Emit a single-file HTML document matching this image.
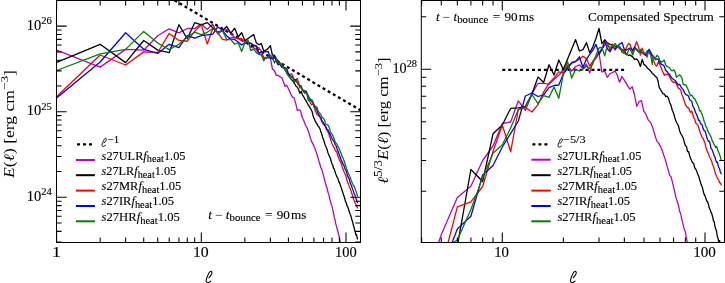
<!DOCTYPE html><html><head><meta charset="utf-8"><style>html,body{margin:0;padding:0;background:#fff;}svg{display:block;will-change:transform}</style></head><body><svg width="725" height="283" viewBox="0 0 725 283" font-family='"Liberation Serif", serif'>
<rect width="725" height="283" fill="#fff"/>
<defs><clipPath id="cl"><rect x="56.6" y="0.4" width="303.7" height="242.0"/></clipPath>
<clipPath id="cr"><rect x="421.2" y="0.4" width="303.09999999999997" height="242.0"/></clipPath></defs>
<g clip-path="url(#cl)"><line x1="56.60" y1="-69.46" x2="374.94" y2="118.86" stroke="#000" stroke-width="2.3" stroke-dasharray="3 2.94" stroke-dashoffset="5.7"/></g>
<line x1="502.30" y1="69.8" x2="624.34" y2="69.8" stroke="#000" stroke-width="2.3" stroke-dasharray="3 2.94"/>
<g clip-path="url(#cl)" fill="none" stroke-width="1.3" stroke-linejoin="round"><polyline points="56.60,50.10 100.16,67.10 125.64,49.40 143.72,50.20 157.74,35.80 169.20,28.80 178.89,32.81 187.28,28.48 194.68,28.66 201.30,24.15 207.29,29.32 212.76,24.32 217.79,33.98 222.44,30.53 226.78,29.56 230.84,33.56 234.65,37.75 238.24,38.99 241.64,40.28 244.86,40.86 247.93,41.67 250.85,47.25 253.64,47.80 256.32,49.60 258.88,53.95 261.35,54.27 263.72,60.87 266.00,57.34 268.21,58.24 270.34,57.64 272.40,68.99 274.40,70.57 276.33,75.47 278.20,75.45 280.03,76.85 281.75,77.58 283.39,81.45 285.04,86.45 286.68,85.28 288.32,88.56 290.75,93.80 292.39,97.09 294.03,97.58 295.67,103.12 297.31,110.38 298.96,109.74 300.60,110.82 302.24,117.50 303.88,120.83 305.52,125.25 307.17,127.99 308.81,132.41 310.68,138.70 311.77,141.84 312.84,143.63 313.90,146.00 314.94,148.44 315.96,151.41 316.96,154.56 317.95,157.52 318.93,161.18 319.89,164.21 320.83,167.55 321.76,169.06 322.68,172.44 323.59,175.94 324.48,179.35 325.36,182.98 326.22,185.71 327.08,188.28 327.92,192.07 328.75,194.40 329.58,197.90 330.39,201.04 331.19,204.13 331.98,206.13 332.76,209.94 333.53,213.31 334.29,217.34 335.04,219.76 335.79,223.88 336.52,226.39 337.25,229.22 337.97,231.70 338.68,234.69 339.38,237.51 340.07,241.15 340.76,243.80 341.30,246.00" stroke="#bf00bf"/><polyline points="56.60,62.30 100.16,44.30 125.64,62.60 143.72,40.50 157.74,50.10 169.20,52.70 178.89,24.62 187.28,38.78 194.68,22.68 201.30,24.89 207.29,22.60 212.76,27.80 217.79,31.97 222.44,30.53 226.78,26.52 230.84,33.11 234.65,28.19 238.24,36.78 241.64,32.77 244.86,40.61 247.93,38.48 250.85,36.46 253.64,34.60 256.32,42.83 258.88,44.68 261.35,43.72 263.72,50.96 266.00,50.23 268.21,48.33 270.34,45.57 272.40,55.06 274.40,55.16 276.33,58.54 278.20,61.18 280.03,63.27 281.80,65.50 283.52,67.69 285.19,69.83 286.83,72.18 288.42,74.48 289.97,77.49 291.48,79.76 292.46,80.43 294.39,83.26 295.82,85.95 297.17,86.94 298.53,89.55 299.88,93.39 301.17,91.23 302.38,94.83 303.67,96.73 304.88,99.05 306.10,100.94 307.24,102.95 308.38,105.15 309.52,106.87 310.66,108.97 311.73,110.62 312.59,113.52 313.31,116.83 314.94,120.37 315.96,122.53 316.96,123.75 317.95,126.00 318.93,126.74 319.89,128.58 320.83,131.84 321.76,134.02 322.68,137.44 323.59,139.64 324.48,142.84 325.36,145.48 326.22,147.46 327.08,149.30 327.92,152.63 328.75,154.83 329.58,156.61 330.39,158.48 331.19,161.26 331.98,163.75 332.76,165.02 333.53,168.27 334.29,169.12 335.04,171.84 335.79,173.96 336.52,175.88 337.25,177.49 337.97,178.65 338.68,181.35 339.38,182.62 340.07,184.35 340.76,186.51 341.44,188.04 342.11,190.46 342.78,192.54 343.43,194.60 344.09,196.18 344.73,198.73 345.37,200.96 346.00,202.30 346.63,204.19 347.24,206.08 347.86,207.07 348.46,208.88 349.07,211.32 349.66,212.65 350.25,214.50 350.84,215.79 351.42,217.90 351.99,220.40 352.56,221.32 353.12,224.36 353.68,226.11 354.23,227.79 354.78,230.75 355.33,232.40 355.87,234.90 356.40,234.51 356.93,236.67 357.46,239.22 357.50,239.50" stroke="#000000"/><polyline points="56.60,96.80 100.16,55.00 125.64,65.00 143.72,51.90 157.74,52.50 169.20,33.42 178.89,40.46 187.28,41.23 194.68,31.36 201.30,24.89 207.29,43.94 212.76,28.58 217.79,32.56 222.44,39.36 226.78,40.05 230.84,37.87 234.65,37.31 238.24,38.25 241.64,38.56 244.86,42.33 247.93,42.41 250.85,43.03 253.64,45.15 256.32,46.90 258.88,47.91 261.35,51.52 263.72,57.54 266.00,57.34 268.21,57.40 270.34,57.25 272.40,57.71 274.40,57.76 276.33,58.54 278.20,64.17 280.03,62.83 281.80,67.56 283.52,67.40 285.19,70.32 286.83,72.52 288.42,75.61 289.97,74.15 291.48,73.78 292.46,75.13 294.39,81.11 295.82,79.81 297.17,78.55 298.53,82.39 299.88,87.75 301.17,85.63 302.38,89.23 303.67,91.48 304.74,93.52 305.38,91.90 306.10,91.91 307.67,95.52 309.02,99.11 310.66,103.43 311.59,104.79 312.95,103.62 313.95,106.67 314.88,109.15 315.52,110.92 316.95,114.53 317.87,114.81 318.87,116.09 319.87,116.78 320.80,119.26 321.73,121.40 322.66,123.20 323.58,124.66 324.73,125.39 327.01,130.73 327.92,132.02 328.75,133.56 329.58,136.62 330.39,138.58 331.19,141.10 331.98,143.79 332.76,145.27 333.53,146.91 334.29,147.55 335.04,149.79 335.79,151.29 336.52,151.31 337.25,153.65 337.97,156.10 338.68,157.47 339.38,160.03 340.07,161.15 340.76,162.33 341.44,164.26 342.11,166.24 342.78,168.56 343.43,170.11 344.09,172.06 344.73,172.89 345.37,174.86 346.00,176.31 346.63,179.01 347.24,181.23 347.86,182.47 348.46,184.25 349.07,185.88 349.66,187.33 350.25,188.70 350.84,190.18 351.42,192.42 351.99,193.66 352.56,195.51 353.12,197.60 353.68,199.28 354.23,200.60 354.78,202.28 355.33,203.33 355.87,204.30 356.40,206.20 356.93,206.71 357.46,207.82 357.49,208.57" stroke="#ff0000"/><polyline points="56.60,98.00 100.16,62.00 125.64,32.70 143.72,49.30 157.74,53.40 169.20,44.26 178.89,47.53 187.28,35.59 194.68,38.23 201.30,35.68 207.29,34.87 212.76,34.22 217.79,26.92 222.44,30.04 226.78,36.03 230.84,39.20 234.65,39.47 238.24,41.93 241.64,45.04 244.86,42.82 247.93,43.14 250.85,43.43 253.64,45.45 256.32,45.68 258.88,53.36 261.35,51.86 263.72,51.75 266.00,51.89 268.21,51.32 270.34,58.28 272.40,58.05 274.40,55.90 276.33,61.53 278.20,64.81 280.03,64.25 281.80,66.83 283.52,67.20 285.19,67.92 286.83,68.79 288.42,73.75 289.97,75.52 291.48,76.38 292.46,77.05 294.39,79.88 295.82,79.72 297.17,82.62 298.53,84.89 299.88,85.59 301.17,87.79 302.38,89.87 303.67,91.58 306.10,91.03 307.24,93.73 308.38,96.22 309.52,98.23 310.66,100.73 311.73,101.30 312.81,102.84 313.88,105.23 314.88,107.09 315.95,108.39 316.95,110.16 317.87,112.94 318.87,114.57 319.87,116.48 320.80,117.99 321.73,120.08 322.66,121.73 323.58,123.14 324.73,124.75 326.94,129.09 327.92,129.80 328.75,131.78 329.58,133.40 330.39,134.85 331.19,136.71 331.98,138.54 332.76,139.81 333.53,140.65 334.29,141.92 335.04,144.31 335.79,145.48 336.52,146.60 337.25,149.59 337.97,151.06 338.68,152.94 339.38,155.03 340.07,156.72 340.76,158.73 341.44,160.75 342.11,161.51 342.78,163.70 343.43,164.61 344.09,165.90 344.73,168.20 345.37,169.69 346.00,170.48 346.63,172.42 347.24,174.79 347.86,176.45 348.46,178.00 349.07,178.54 349.66,180.34 350.25,183.15 350.84,184.18 351.42,185.58 351.99,187.39 352.56,189.17 353.12,190.30 353.68,192.36 354.23,194.00 354.78,194.34 355.33,196.42 355.87,198.20 356.40,199.23 356.93,201.49 357.46,202.46 357.49,203.07" stroke="#0000ff"/><polyline points="56.60,70.50 100.16,53.80 125.64,49.40 143.72,31.40 157.74,43.00 169.20,49.65 178.89,44.24 187.28,36.87 194.68,32.20 201.30,34.55 207.29,32.27 212.76,28.58 217.79,32.32 222.44,30.78 226.78,39.51 230.84,39.64 234.65,44.23 238.24,42.67 241.64,51.56 244.86,42.82 247.93,39.76 250.85,50.69 253.64,49.12 256.32,52.64 258.88,54.29 261.35,55.20 263.72,58.72 266.00,58.57 268.21,56.62 270.34,55.19 272.40,56.92 274.40,63.01 276.33,59.67 278.20,62.55 280.03,64.05 281.80,64.23 283.52,67.69 285.19,69.05 286.83,73.65 288.42,75.61 289.97,77.88 291.48,77.11 292.46,77.34 294.39,82.33 295.82,80.94 297.17,81.99 298.53,84.89 299.88,84.95 301.17,88.09 302.38,89.48 303.67,90.45 304.95,90.59 307.24,95.10 308.02,99.01 308.38,100.69 309.02,97.74 310.66,99.80 311.73,99.53 312.81,101.47 313.88,104.34 314.88,106.01 315.95,106.58 316.95,107.07 317.87,110.44 318.87,112.07 319.87,113.34 320.80,114.60 321.73,116.74 322.66,117.95 323.58,118.33 324.73,120.68 325.58,124.03 327.92,125.09 328.75,126.56 329.58,128.41 330.39,132.12 331.19,133.37 331.98,133.88 332.76,135.43 333.53,137.29 334.29,139.24 335.04,141.54 335.79,143.07 336.52,143.52 337.25,144.97 337.97,146.54 338.68,147.36 339.38,149.17 340.07,150.85 340.76,152.48 341.44,154.15 342.11,156.73 342.78,157.28 343.43,159.14 344.09,160.82 344.73,162.74 345.37,165.08 346.00,166.84 346.63,169.00 347.24,169.88 347.86,172.13 348.46,173.57 349.07,174.81 349.66,176.30 350.25,177.47 350.84,179.37 351.42,180.95 351.99,182.24 352.56,183.79 353.12,184.75 353.68,186.26 354.23,186.14 354.78,187.53 355.33,189.58 355.87,190.89 356.40,192.31 356.93,193.92 357.46,195.88 357.49,195.47" stroke="#008000"/></g>
<g clip-path="url(#cr)" fill="none" stroke-width="1.3" stroke-linejoin="round"><polyline points="299.60,467.23 360.62,414.33 396.31,327.04 421.64,292.33 441.28,234.79 457.33,197.50 470.90,186.20 482.66,160.50 493.02,146.00 502.30,123.50 510.69,122.00 518.35,100.80 525.40,110.40 531.92,94.00 537.99,83.30 543.68,83.30 549.01,84.20 554.04,79.50 558.80,75.30 563.32,70.00 567.61,65.50 571.71,71.00 575.62,66.50 579.37,64.80 582.96,68.50 586.42,64.20 589.74,72.90 592.94,61.10 596.03,58.50 599.01,53.00 601.90,72.00 604.69,71.20 607.40,77.30 610.03,73.50 612.58,72.70 615.00,70.70 617.30,75.30 619.60,82.20 621.90,76.50 624.20,79.90 627.60,85.70 629.90,89.10 632.20,86.80 634.50,94.80 636.80,106.30 639.10,101.70 641.40,100.60 643.70,110.90 646.00,114.40 648.30,120.10 650.60,122.40 652.90,128.10 655.52,137.18 657.05,141.38 658.55,142.86 660.03,145.57 661.49,148.47 662.92,152.46 664.33,156.86 665.71,160.91 667.08,166.42 668.42,170.67 669.75,175.56 671.05,176.77 672.33,181.83 673.60,187.14 674.85,192.30 676.08,197.94 677.30,201.76 678.49,205.27 679.67,211.31 680.84,214.39 681.99,219.88 683.13,224.63 684.25,229.34 685.36,231.82 686.45,238.01 687.53,243.33 688.60,250.02 689.65,253.44 690.69,260.35 691.72,263.98 692.74,268.30 693.75,271.91 694.74,276.58 695.72,280.90 696.70,286.93 697.66,290.96 698.42,294.36" stroke="#bf00bf"/><polyline points="299.60,492.10 360.62,367.85 396.31,353.94 421.64,272.56 441.28,263.94 457.33,246.21 470.90,169.50 482.66,181.50 493.02,133.80 502.30,125.00 510.69,108.30 518.35,107.90 525.40,106.30 531.92,94.00 537.99,77.10 543.68,82.40 549.01,64.70 554.04,75.00 558.80,60.00 563.32,69.50 567.61,59.00 571.71,49.00 575.62,39.60 579.37,51.00 582.96,49.60 586.42,42.70 589.74,52.70 592.94,46.60 596.03,38.30 599.01,28.40 601.90,43.60 604.69,39.80 607.40,42.80 610.03,44.40 612.58,45.00 615.06,46.00 617.47,47.00 619.82,48.00 622.11,49.50 624.34,51.00 626.51,54.00 628.63,55.60 630.00,55.00 632.70,56.90 634.70,59.50 636.60,58.80 638.50,61.40 640.40,66.50 642.20,59.50 643.90,64.40 645.70,65.70 647.40,68.00 649.10,69.40 650.70,71.20 652.30,73.40 653.90,74.60 655.50,76.60 657.00,77.80 658.20,82.00 659.20,87.30 661.49,91.24 662.92,93.60 664.33,94.05 665.71,96.65 667.08,96.20 668.42,98.03 669.75,102.77 671.05,105.34 672.33,110.47 673.60,113.14 674.85,117.88 676.08,121.49 677.30,123.77 678.49,125.82 679.67,130.91 680.84,133.72 681.99,135.69 683.13,137.87 684.25,141.93 685.36,145.43 686.45,146.44 687.53,151.53 688.60,151.73 689.65,155.76 690.69,158.57 691.72,161.03 692.74,162.85 693.75,163.76 694.74,167.83 695.72,169.01 696.70,171.15 697.66,174.17 698.61,175.92 699.55,179.50 700.48,182.41 701.41,185.29 702.32,187.20 703.22,191.10 704.12,194.36 705.00,195.84 705.88,198.42 706.74,201.03 707.60,201.82 708.45,204.29 709.30,208.04 710.13,209.57 710.96,212.14 711.77,213.60 712.59,216.74 713.39,220.68 714.19,221.42 714.98,226.49 715.76,228.92 716.53,231.24 717.30,236.17 718.07,238.44 718.82,242.46 719.57,240.58 720.31,243.93 721.05,248.05 721.11,248.55" stroke="#000000"/><polyline points="299.60,562.43 360.62,389.66 396.31,358.84 421.64,295.80 441.28,268.83 457.33,206.90 470.90,201.80 482.66,186.50 493.02,151.50 502.30,125.00 510.69,151.80 518.35,109.50 525.40,107.50 531.92,112.00 537.99,104.70 543.68,92.10 549.01,83.30 554.04,78.00 558.80,71.80 563.32,73.00 567.61,67.00 571.71,62.40 575.62,61.10 579.37,59.30 582.96,56.20 586.42,58.60 589.74,66.10 592.94,61.10 596.03,56.80 599.01,52.20 601.90,49.00 604.69,45.10 607.40,42.80 610.03,50.50 612.58,44.10 615.06,50.20 617.47,46.40 619.82,49.00 622.11,50.20 624.34,53.30 626.51,47.20 628.63,43.40 630.00,44.20 632.70,52.50 634.70,47.00 636.60,41.70 638.50,46.80 640.40,55.00 642.20,48.10 643.90,53.00 645.70,55.00 647.20,57.00 648.10,52.40 649.10,51.00 651.30,55.20 653.20,59.80 655.50,65.30 656.80,66.20 658.70,61.10 660.10,65.30 661.40,68.50 662.30,70.80 664.30,75.30 665.60,74.00 667.00,74.60 668.40,74.00 669.70,77.20 671.00,79.70 672.30,81.50 673.60,82.60 675.20,81.80 678.40,88.10 679.67,88.90 680.84,90.36 681.99,94.94 683.13,97.31 684.25,100.83 685.36,104.74 686.45,106.18 687.53,107.97 688.60,107.75 689.65,110.80 690.69,112.36 691.72,110.93 692.74,114.25 693.75,117.80 694.74,119.15 695.72,122.96 696.70,123.86 697.66,124.87 698.61,127.44 699.55,130.13 700.48,133.52 701.41,135.36 702.32,138.02 703.22,138.42 704.12,141.16 705.00,142.85 705.88,147.10 706.74,150.36 707.60,151.66 708.45,154.08 709.30,156.18 710.13,157.96 710.96,159.56 711.77,161.39 712.59,164.79 713.39,166.17 714.19,168.80 714.98,171.93 715.76,174.24 716.53,175.82 717.30,178.14 718.07,179.17 718.82,180.07 719.57,182.86 720.31,182.85 721.05,184.05 721.10,185.50" stroke="#ff0000"/><polyline points="299.60,564.87 360.62,403.93 396.31,292.99 421.64,290.50 441.28,270.67 457.33,229.00 470.90,216.20 482.66,175.00 493.02,165.50 502.30,147.00 510.69,133.30 518.35,121.00 525.40,96.00 531.92,93.00 537.99,96.50 543.68,94.80 549.01,87.70 554.04,85.50 558.80,85.00 563.32,74.00 567.61,68.50 571.71,63.20 575.62,61.70 579.37,56.80 582.96,67.30 586.42,59.30 589.74,54.30 592.94,50.00 596.03,44.40 599.01,54.30 601.90,49.70 604.69,41.30 607.40,48.90 610.03,51.80 612.58,47.00 615.06,48.70 617.47,46.00 619.82,44.10 622.11,42.60 624.34,49.50 626.51,50.00 628.63,48.70 630.00,48.10 632.70,50.00 634.70,46.80 636.60,50.00 638.50,51.90 640.40,50.60 642.20,52.50 643.90,54.30 645.70,55.20 649.10,49.20 650.70,52.40 652.30,55.20 653.90,57.00 655.50,59.80 657.00,58.80 658.50,59.80 660.00,62.50 661.40,64.30 662.90,64.80 664.30,66.40 665.60,70.20 667.00,71.50 668.40,73.40 669.70,74.60 671.00,77.00 672.30,78.50 673.60,79.50 675.20,80.50 678.30,84.90 679.67,84.37 680.84,86.73 681.99,88.38 683.13,89.70 684.25,91.90 685.36,94.04 686.45,95.05 687.53,95.22 688.60,96.27 689.65,99.63 690.69,100.53 691.72,101.34 692.74,105.97 693.75,107.51 694.74,109.92 695.72,112.77 696.70,114.83 697.66,117.53 698.61,120.29 699.55,120.49 700.48,123.62 701.41,124.14 702.32,125.47 703.22,128.86 704.12,130.62 705.00,130.96 705.88,133.65 706.74,137.25 707.60,139.40 708.45,141.34 709.30,141.22 710.13,143.69 710.96,148.25 711.77,149.17 712.59,150.85 713.39,153.39 714.19,155.87 714.98,157.04 715.76,160.12 716.53,162.36 717.30,161.95 718.07,165.09 718.82,167.63 719.57,168.66 720.31,172.21 721.05,173.12 721.10,174.30" stroke="#0000ff"/><polyline points="299.60,508.81 360.62,387.22 396.31,327.04 421.64,254.01 441.28,249.47 457.33,240.00 470.90,209.50 482.66,177.60 493.02,153.20 502.30,144.70 510.69,128.00 518.35,109.50 525.40,107.00 531.92,94.50 537.99,103.60 543.68,95.70 549.01,97.40 554.04,87.00 558.80,98.30 563.32,74.00 567.61,61.60 571.71,78.00 575.62,69.20 579.37,71.00 582.96,69.20 586.42,66.10 589.74,68.50 592.94,63.60 596.03,55.20 599.01,48.00 601.90,47.40 604.69,55.80 607.40,45.10 610.03,47.20 612.58,46.60 615.06,43.40 617.47,47.00 619.82,46.40 622.11,52.50 624.34,53.30 626.51,54.80 628.63,50.20 630.00,48.70 632.70,55.00 634.70,49.30 636.60,48.70 638.50,51.90 640.40,49.30 642.20,53.10 643.90,53.50 645.70,52.90 647.50,50.60 650.70,55.20 651.80,61.60 652.30,64.30 653.20,57.00 655.50,57.90 657.00,55.20 658.50,57.00 660.00,60.70 661.40,62.10 662.90,61.10 664.30,60.10 665.60,65.10 667.00,66.40 668.40,67.00 669.70,67.70 671.00,70.20 672.30,70.80 673.60,69.70 675.20,72.20 676.40,77.30 679.67,74.77 680.84,76.09 681.99,78.21 683.13,84.14 684.25,85.09 685.36,84.53 686.45,86.13 687.53,88.36 688.60,90.81 689.65,93.99 690.69,95.62 691.72,95.06 692.74,96.55 693.75,98.31 694.74,98.56 695.72,100.83 696.70,102.85 697.66,104.79 698.61,106.83 699.55,110.74 700.48,110.54 701.41,113.00 702.32,115.12 703.22,117.72 704.12,121.22 705.00,123.54 705.88,126.68 706.74,127.23 707.60,130.58 708.45,132.30 709.30,133.63 710.13,135.46 710.96,136.66 711.77,139.37 712.59,141.43 713.39,142.89 714.19,144.91 714.98,145.74 715.76,147.70 716.53,146.33 717.30,148.06 718.07,151.15 718.82,152.74 719.57,154.56 720.31,156.78 721.05,159.70 721.10,158.80" stroke="#008000"/></g>
<rect x="56.5" y="0.5" width="304.00" height="242.00" fill="none" stroke="#000" stroke-width="1.0"/>
<rect x="421.3" y="0.5" width="303.20" height="242.00" fill="none" stroke="#000" stroke-width="1.0"/>
<path d="M56.60 242.4v-10M56.60 0.4v10M201.30 242.4v-10M201.30 0.4v10M346.00 242.4v-10M346.00 0.4v10M100.16 242.4v-5M100.16 0.4v5M125.64 242.4v-5M125.64 0.4v5M143.72 242.4v-5M143.72 0.4v5M157.74 242.4v-5M157.74 0.4v5M169.20 242.4v-5M169.20 0.4v5M178.89 242.4v-5M178.89 0.4v5M187.28 242.4v-5M187.28 0.4v5M194.68 242.4v-5M194.68 0.4v5M244.86 242.4v-5M244.86 0.4v5M270.34 242.4v-5M270.34 0.4v5M288.42 242.4v-5M288.42 0.4v5M302.44 242.4v-5M302.44 0.4v5M313.90 242.4v-5M313.90 0.4v5M323.59 242.4v-5M323.59 0.4v5M331.98 242.4v-5M331.98 0.4v5M339.38 242.4v-5M339.38 0.4v5M56.6 197.30h10M360.3 197.30h-10M56.6 111.70h10M360.3 111.70h-10M56.6 26.10h10M360.3 26.10h-10M56.6 242.06h5M360.3 242.06h-5M56.6 231.36h5M360.3 231.36h-5M56.6 223.07h5M360.3 223.07h-5M56.6 216.29h5M360.3 216.29h-5M56.6 210.56h5M360.3 210.56h-5M56.6 205.60h5M360.3 205.60h-5M56.6 201.22h5M360.3 201.22h-5M56.6 171.53h5M360.3 171.53h-5M56.6 156.46h5M360.3 156.46h-5M56.6 145.76h5M360.3 145.76h-5M56.6 137.47h5M360.3 137.47h-5M56.6 130.69h5M360.3 130.69h-5M56.6 124.96h5M360.3 124.96h-5M56.6 120.00h5M360.3 120.00h-5M56.6 115.62h5M360.3 115.62h-5M56.6 85.93h5M360.3 85.93h-5M56.6 70.86h5M360.3 70.86h-5M56.6 60.16h5M360.3 60.16h-5M56.6 51.87h5M360.3 51.87h-5M56.6 45.09h5M360.3 45.09h-5M56.6 39.36h5M360.3 39.36h-5M56.6 34.40h5M360.3 34.40h-5M56.6 30.02h5M360.3 30.02h-5" stroke="#000" stroke-width="1.05" fill="none"/>
<path d="M502.30 242.4v-10M502.30 0.4v10M705.00 242.4v-10M705.00 0.4v10M421.64 242.4v-5M421.64 0.4v5M441.28 242.4v-5M441.28 0.4v5M457.33 242.4v-5M457.33 0.4v5M470.90 242.4v-5M470.90 0.4v5M482.66 242.4v-5M482.66 0.4v5M493.02 242.4v-5M493.02 0.4v5M563.32 242.4v-5M563.32 0.4v5M599.01 242.4v-5M599.01 0.4v5M624.34 242.4v-5M624.34 0.4v5M643.98 242.4v-5M643.98 0.4v5M660.03 242.4v-5M660.03 0.4v5M673.60 242.4v-5M673.60 0.4v5M685.36 242.4v-5M685.36 0.4v5M695.72 242.4v-5M695.72 0.4v5M421.2 69.30h10M724.3 69.30h-10M421.2 191.27h5M724.3 191.27h-5M421.2 160.54h5M724.3 160.54h-5M421.2 138.74h5M724.3 138.74h-5M421.2 121.83h5M724.3 121.83h-5M421.2 108.01h5M724.3 108.01h-5M421.2 96.33h5M724.3 96.33h-5M421.2 86.21h5M724.3 86.21h-5M421.2 77.28h5M724.3 77.28h-5M421.2 16.77h5M724.3 16.77h-5" stroke="#000" stroke-width="1.05" fill="none"/>
<g stroke="#000" stroke-width="0.12"><text x="101.60" y="159.7" font-size="12" textLength="83.90" lengthAdjust="spacingAndGlyphs"><tspan font-style="italic">s</tspan>27ULR<tspan font-style="italic">f</tspan><tspan font-size="10" dy="2.7">heat</tspan><tspan dy="-2.7">1.05</tspan></text>
<text x="557.40" y="159.5" font-size="12" textLength="83.90" lengthAdjust="spacingAndGlyphs"><tspan font-style="italic">s</tspan>27ULR<tspan font-style="italic">f</tspan><tspan font-size="10" dy="2.7">heat</tspan><tspan dy="-2.7">1.05</tspan></text>
<text x="101.60" y="174.8" font-size="12" textLength="74.60" lengthAdjust="spacingAndGlyphs"><tspan font-style="italic">s</tspan>27LR<tspan font-style="italic">f</tspan><tspan font-size="10" dy="2.7">heat</tspan><tspan dy="-2.7">1.05</tspan></text>
<text x="557.40" y="174.8" font-size="12" textLength="74.60" lengthAdjust="spacingAndGlyphs"><tspan font-style="italic">s</tspan>27LR<tspan font-style="italic">f</tspan><tspan font-size="10" dy="2.7">heat</tspan><tspan dy="-2.7">1.05</tspan></text>
<text x="101.60" y="190.2" font-size="12" textLength="79.60" lengthAdjust="spacingAndGlyphs"><tspan font-style="italic">s</tspan>27MR<tspan font-style="italic">f</tspan><tspan font-size="10" dy="2.7">heat</tspan><tspan dy="-2.7">1.05</tspan></text>
<text x="557.40" y="189.9" font-size="12" textLength="79.60" lengthAdjust="spacingAndGlyphs"><tspan font-style="italic">s</tspan>27MR<tspan font-style="italic">f</tspan><tspan font-size="10" dy="2.7">heat</tspan><tspan dy="-2.7">1.05</tspan></text>
<text x="101.60" y="205.4" font-size="12" textLength="72.50" lengthAdjust="spacingAndGlyphs"><tspan font-style="italic">s</tspan>27IR<tspan font-style="italic">f</tspan><tspan font-size="10" dy="2.7">heat</tspan><tspan dy="-2.7">1.05</tspan></text>
<text x="557.40" y="205.3" font-size="12" textLength="72.50" lengthAdjust="spacingAndGlyphs"><tspan font-style="italic">s</tspan>27IR<tspan font-style="italic">f</tspan><tspan font-size="10" dy="2.7">heat</tspan><tspan dy="-2.7">1.05</tspan></text>
<text x="101.60" y="221.0" font-size="12" textLength="78.20" lengthAdjust="spacingAndGlyphs"><tspan font-style="italic">s</tspan>27HR<tspan font-style="italic">f</tspan><tspan font-size="10" dy="2.7">heat</tspan><tspan dy="-2.7">1.05</tspan></text>
<text x="557.40" y="220.8" font-size="12" textLength="78.20" lengthAdjust="spacingAndGlyphs"><tspan font-style="italic">s</tspan>27HR<tspan font-style="italic">f</tspan><tspan font-size="10" dy="2.7">heat</tspan><tspan dy="-2.7">1.05</tspan></text>
<text x="107.70" y="142.6" font-size="10" stroke-width="0.1" textLength="11.50" lengthAdjust="spacingAndGlyphs">−1</text>
<text x="563.00" y="143.2" font-size="10" stroke-width="0.1" textLength="22.60" lengthAdjust="spacingAndGlyphs">−5/3</text>
<text x="208.20" y="218.6" font-size="12" textLength="98.20" lengthAdjust="spacingAndGlyphs"><tspan font-style="italic">t</tspan> − <tspan font-style="italic">t</tspan><tspan font-size="9.8" dy="2.4">bounce</tspan><tspan dy="-2.4"> = 90 ms</tspan></text>
<text x="435.90" y="20.9" font-size="12" textLength="98.20" lengthAdjust="spacingAndGlyphs"><tspan font-style="italic">t</tspan> − <tspan font-style="italic">t</tspan><tspan font-size="9.8" dy="2.4">bounce</tspan><tspan dy="-2.4"> = 90 ms</tspan></text>
<text x="588.00" y="21.3" font-size="12" textLength="125.80" lengthAdjust="spacingAndGlyphs">Compensated Spectrum</text>
<text x="51.90" y="256.6" font-size="14.3" textLength="8.90" lengthAdjust="spacingAndGlyphs">1</text>
<text x="192.90" y="256.6" font-size="14.3" textLength="15.80" lengthAdjust="spacingAndGlyphs">10</text>
<text x="335.10" y="256.6" font-size="14.3" textLength="21.70" lengthAdjust="spacingAndGlyphs">100</text>
<text x="494.20" y="256.6" font-size="14.3" textLength="14.80" lengthAdjust="spacingAndGlyphs">10</text>
<text x="693.15" y="256.6" font-size="14.3" textLength="22.70" lengthAdjust="spacingAndGlyphs">100</text>
<text x="26.70" y="29.50" font-size="14.3" textLength="25.10" lengthAdjust="spacingAndGlyphs">10<tspan font-size="10.5" dy="-5.3">26</tspan></text>
<text x="26.70" y="115.00" font-size="14.3" textLength="25.10" lengthAdjust="spacingAndGlyphs">10<tspan font-size="10.5" dy="-5.3">25</tspan></text>
<text x="26.70" y="200.70" font-size="14.3" textLength="25.10" lengthAdjust="spacingAndGlyphs">10<tspan font-size="10.5" dy="-5.3">24</tspan></text>
<text x="392.50" y="72.70" font-size="14.3" textLength="24.50" lengthAdjust="spacingAndGlyphs">10<tspan font-size="10.5" dy="-5.3">28</tspan></text>
<text transform="translate(13.6,178.00) rotate(-90)" font-size="14.5" stroke-width="0" textLength="108.00" lengthAdjust="spacingAndGlyphs"><tspan font-style="italic">E</tspan>(<tspan font-style="italic">ℓ</tspan>) [erg cm<tspan font-size="11" dy="-6">−3</tspan><tspan dy="6">]</tspan></text>
<text transform="translate(388.4,183.90) rotate(-90)" font-size="14.5" stroke-width="0" textLength="126.60" lengthAdjust="spacingAndGlyphs"><tspan font-style="italic">ℓ</tspan><tspan font-size="11.5" dy="-6">5/3</tspan><tspan dy="6" font-style="italic">E</tspan>(<tspan font-style="italic">ℓ</tspan>) [erg cm<tspan font-size="11" dy="-6">−3</tspan><tspan dy="6">]</tspan></text></g>
<path d="M208.9 277.8C210.5 276 212.6 273.5 211.9 272.2C211.3 270.9 209.9 271.3 209.2 272.6C208.3 274.3 206.4 278.5 206.1 280.4C205.9 282 207.2 282.9 208.4 282.5C209.3 282.2 210.2 281.6 210.8 281.1" fill="none" stroke="#000" stroke-width="1.05" stroke-linecap="round"/>
<path d="M208.9 277.8C210.5 276 212.6 273.5 211.9 272.2C211.3 270.9 209.9 271.3 209.2 272.6C208.3 274.3 206.4 278.5 206.1 280.4C205.9 282 207.2 282.9 208.4 282.5C209.3 282.2 210.2 281.6 210.8 281.1" transform="translate(364.3,0)" fill="none" stroke="#000" stroke-width="1.05" stroke-linecap="round"/>
<path d="M208.9 277.8C210.5 276 212.6 273.5 211.9 272.2C211.3 270.9 209.9 271.3 209.2 272.6C208.3 274.3 206.4 278.5 206.1 280.4C205.9 282 207.2 282.9 208.4 282.5C209.3 282.2 210.2 281.6 210.8 281.1" transform="matrix(0.74 0 0 0.74 -50.47 -62.6)" fill="none" stroke="#000" stroke-width="1.25" stroke-linecap="round"/>
<path d="M208.9 277.8C210.5 276 212.6 273.5 211.9 272.2C211.3 270.9 209.9 271.3 209.2 272.6C208.3 274.3 206.4 278.5 206.1 280.4C205.9 282 207.2 282.9 208.4 282.5C209.3 282.2 210.2 281.6 210.8 281.1" transform="matrix(0.76 0 0 0.76 401.3 -67.6)" fill="none" stroke="#000" stroke-width="1.25" stroke-linecap="round"/>
<line x1="77.0" y1="144.4" x2="92.0" y2="144.4" stroke="#000" stroke-width="2.3" stroke-dasharray="3 3"/>
<line x1="75.9" y1="160" x2="94.9" y2="160" stroke="#bf00bf" stroke-width="2"/>
<line x1="75.9" y1="175.2" x2="94.9" y2="175.2" stroke="#000000" stroke-width="2"/>
<line x1="75.9" y1="190.6" x2="94.9" y2="190.6" stroke="#ff0000" stroke-width="2"/>
<line x1="75.9" y1="206" x2="94.9" y2="206" stroke="#0000ff" stroke-width="2"/>
<line x1="75.9" y1="221.3" x2="94.9" y2="221.3" stroke="#008000" stroke-width="2"/>
<line x1="532.4" y1="144.4" x2="547.4" y2="144.4" stroke="#000" stroke-width="2.3" stroke-dasharray="3 3"/>
<line x1="531.4" y1="159.7" x2="550.7" y2="159.7" stroke="#bf00bf" stroke-width="2"/>
<line x1="531.4" y1="175.2" x2="550.7" y2="175.2" stroke="#000000" stroke-width="2"/>
<line x1="531.4" y1="190.6" x2="550.7" y2="190.6" stroke="#ff0000" stroke-width="2"/>
<line x1="531.4" y1="206" x2="550.7" y2="206" stroke="#0000ff" stroke-width="2"/>
<line x1="531.4" y1="221.3" x2="550.7" y2="221.3" stroke="#008000" stroke-width="2"/>
</svg></body></html>
